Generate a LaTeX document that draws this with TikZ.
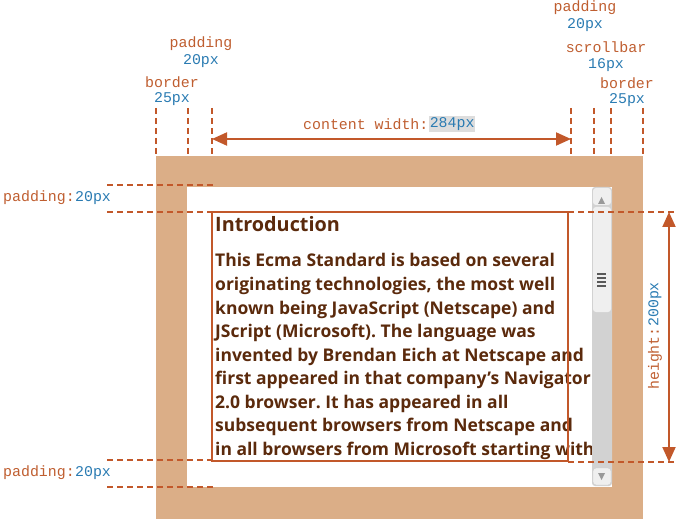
\documentclass[tikz,border=0pt]{standalone}
\usepackage{fontspec}
\setmainfont{Open Sans}
\newfontfamily\monofont{Liberation Mono}
\usetikzlibrary{arrows.meta}
\definecolor{tanborder}{HTML}{DBAE87}
\definecolor{rust}{HTML}{C2582A}
\definecolor{lblorange}{HTML}{BF5E30}
\definecolor{lblblue}{HTML}{2A7BB2}
\definecolor{txtbrown}{HTML}{5B2A0C}
\definecolor{sbtrack}{HTML}{D2D2D2}
\definecolor{sblight}{HTML}{EFEFEF}
\definecolor{hlgray}{HTML}{DDDDDD}
\frenchspacing
\tikzset{
  dashline/.style={draw=rust, line width=1.7bp, dash pattern=on 6bp off 4bp},
  arr/.style={draw=rust, line width=2bp, {Triangle[length=15bp,width=13bp]}-{Triangle[length=15bp,width=13bp]}},
  lbl/.style={text=lblorange, font=\monofont\fontsize{14.9bp}{16bp}\selectfont, inner sep=0pt},
  val/.style={text=lblblue, font=\monofont\fontsize{14.9bp}{16bp}\selectfont, inner sep=0pt},
  bodyline/.style={text=txtbrown, font=\bfseries\fontsize{17.5bp}{19bp}\selectfont, inner sep=0pt, anchor=base west},
}
\begin{document}
\begin{tikzpicture}[x=1bp,y=-1bp]
\useasboundingbox (0,0) rectangle (678,520);
% border and padding area
\fill[tanborder] (156,156) rectangle (643,519);
\fill[white] (187,187) rectangle (612,487);
% text
\node[bodyline, font=\bfseries\fontsize{19.8bp}{21bp}\selectfont] (title) at (215,232) {Introduction};
\node[bodyline] (l1) at (215,267) {This Ecma Standard is based on several};
\node[bodyline] (l2) at (215,290.5) {originating technologies, the most well};
\node[bodyline] (l3) at (215,314) {known being JavaScript (Netscape) and};
\node[bodyline] (l4) at (215,337.5) {JScript (Microsoft). The language was};
\node[bodyline] (l5) at (215,361) {invented by Brendan Eich at Netscape and};
\node[bodyline] (l6) at (215,384.5) {first appeared in that company’s Navigator};
\node[bodyline] (l7) at (215,408) {2.0 browser. It has appeared in all};
\node[bodyline] (l8) at (215,431.5) {subsequent browsers from Netscape and};
\node[bodyline] (l9) at (215,455) {in all browsers from Microsoft starting with};
% scrollbar
\fill[sbtrack, rounded corners=3bp] (592,187) rectangle (612,486);
\fill[sblight, rounded corners=3bp] (593,188) rectangle (611,205);
\fill[gray!80] (598,204) -- (605,204) -- (601.5,197) -- cycle;
\fill[sblight, rounded corners=3bp] (593,207) rectangle (611,312);
\foreach \yy in {274,278,282,286}{\draw[gray!70!black, line width=1.3bp] (597,\yy) -- (606,\yy);}
\fill[sblight, rounded corners=3bp, draw=gray!40] (593,468) rectangle (611,485);
\fill[gray!80] (598,473) -- (605,473) -- (601.5,480) -- cycle;
% content box
\draw[rust, line width=1.5bp] (212,212) rectangle (568,461);
% vertical dashed guides at top
\foreach \xx/\nn in {156/a,188/b,212/c,571/d,594/e,611/f,643/g}{
  \coordinate (v\nn1) at (\xx,108);
  \coordinate (v\nn2) at (\xx,156);
  \draw[dashline] (v\nn1) -- (v\nn2);
}
% horizontal dashed guides on the left
\foreach \yy/\nn in {185/a,212/b,460/c,487/d}{
  \coordinate (h\nn1) at (107,\yy);
  \coordinate (h\nn2) at (214,\yy);
  \draw[dashline] (h\nn1) -- (h\nn2);
}
% horizontal dashed guides on the right
\coordinate (ra1) at (568,212); \coordinate (ra2) at (678,212);
\coordinate (rb1) at (568,462); \coordinate (rb2) at (678,462);
\draw[dashline] (ra1) -- (ra2);
\draw[dashline] (rb1) -- (rb2);
% arrows
\coordinate (cwl) at (212,139); \coordinate (cwr) at (571,139);
\draw[arr] (cwl) -- (cwr);
\coordinate (hht) at (669,212); \coordinate (hhb) at (669,462);
\draw[arr] (hht) -- (hhb);
% labels top
\node[lbl, anchor=west] (cw) at (303,124) {content width:};
\node[val, anchor=west, fill=hlgray, inner sep=1bp] (cwv) at (cw.east) {284px};
\node[lbl] (padl) at (201,44) {padding};
\node[val] (padlv) at (201,61) {20px};
\node[lbl] (bordl) at (172,82) {border};
\node[val] (bordlv) at (172,99) {25px};
\node[lbl] (padr) at (585,8) {padding};
\node[val] (padrv) at (585,25) {20px};
\node[lbl] (scr) at (606,47) {scrollbar};
\node[val] (scrv) at (606,65) {16px};
\node[lbl] (bordr) at (627,83) {border};
\node[val] (bordrv) at (627,100) {25px};
% left labels
\node[lbl, anchor=west] (pt) at (3,198) {padding:};
\node[val, anchor=west] (ptv) at (pt.east) {20px};
\node[lbl, anchor=west] (pb) at (3,473) {padding:};
\node[val, anchor=west] (pbv) at (pb.east) {20px};
% height label
\node[lbl, rotate=90, anchor=west] (ht) at (655,390) {height:};
\node[val, rotate=90, anchor=west] (htv) at (ht.east) {200px};
\end{tikzpicture}
\end{document}
